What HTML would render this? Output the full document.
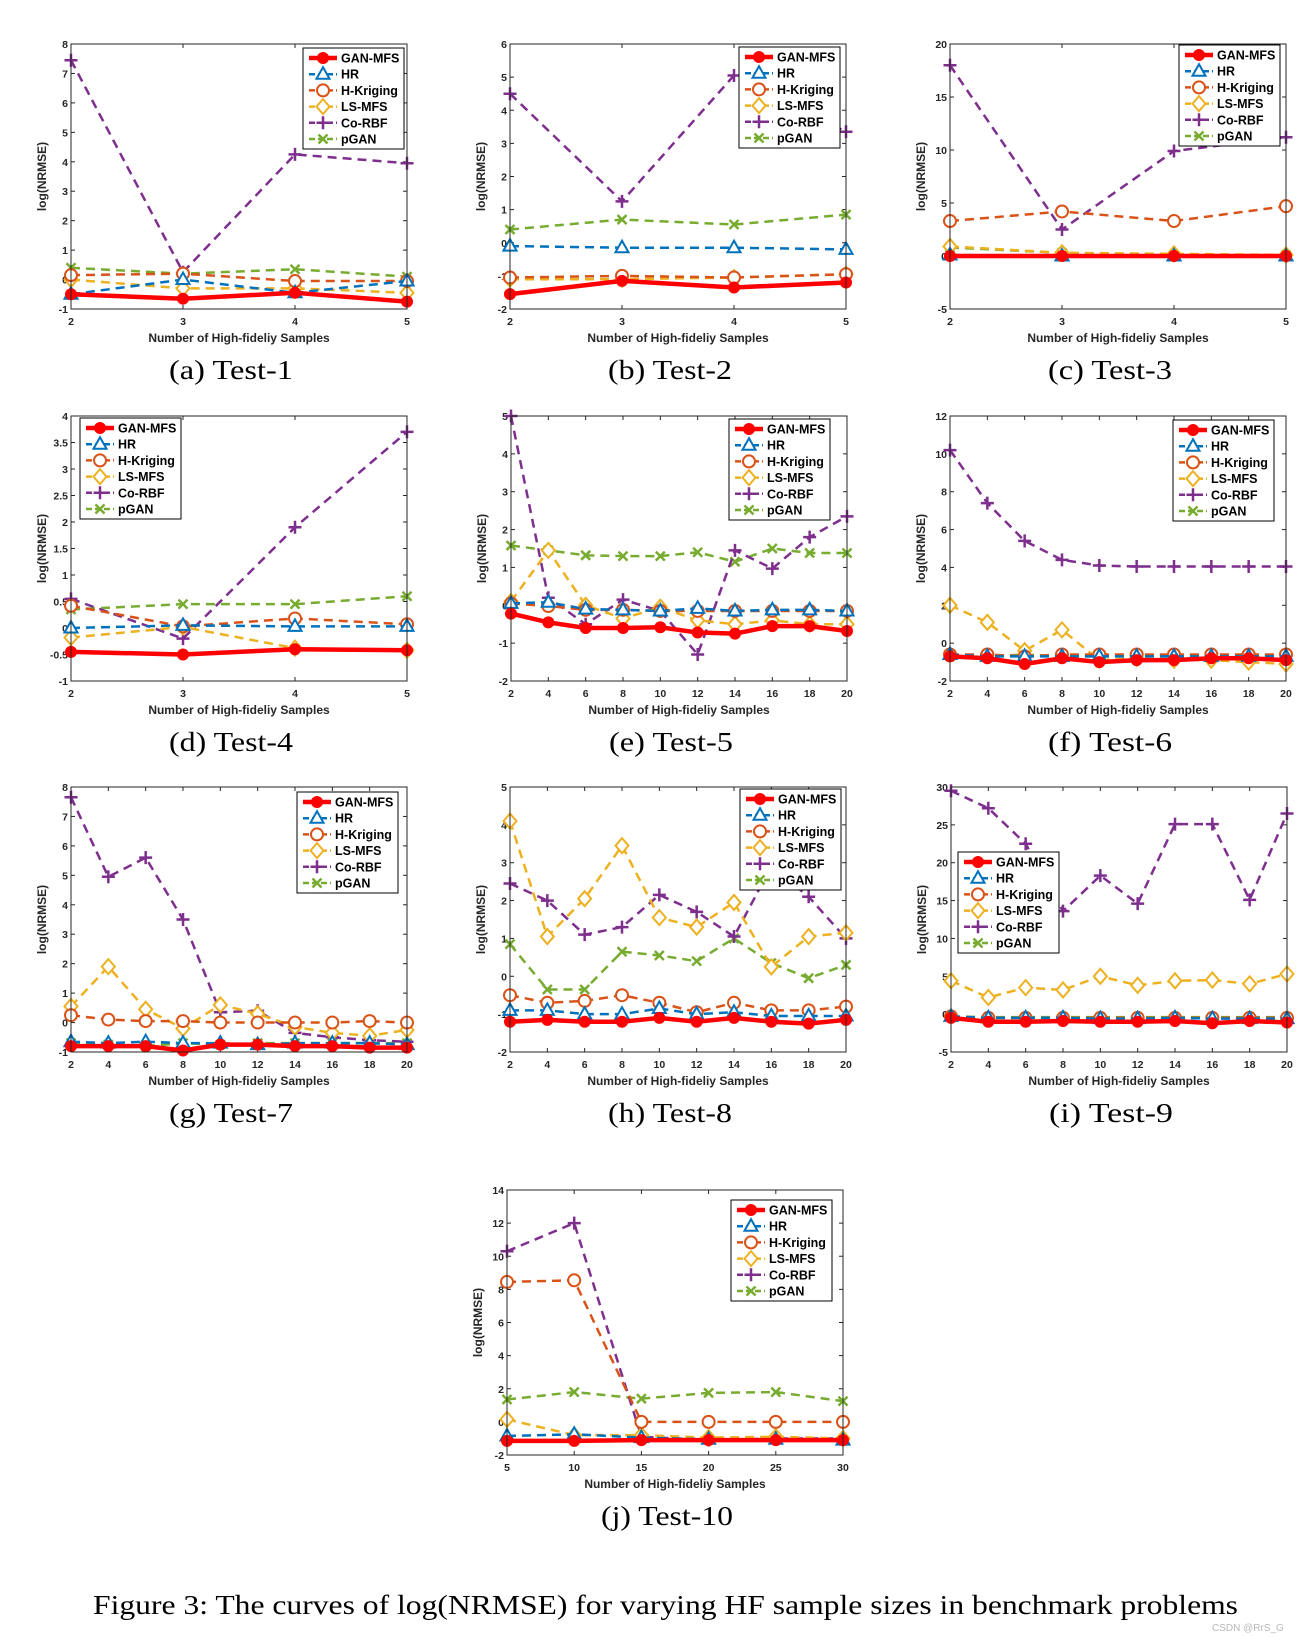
<!DOCTYPE html>
<html><head><meta charset="utf-8"><style>
html,body{margin:0;padding:0;background:#fff;}
svg{display:block;}
.tk{font-family:"Liberation Sans",sans-serif;font-weight:bold;font-size:10.5px;fill:#262626;}
.lab{font-family:"Liberation Sans",sans-serif;font-weight:bold;font-size:12px;fill:#262626;}
.leg{font-family:"Liberation Sans",sans-serif;font-weight:bold;font-size:12.5px;fill:#000;}
.cap{font-family:"Liberation Serif",serif;font-size:27px;fill:#000;}
</style></head><body>
<svg id="fig" width="1298" height="1637" viewBox="0 0 1298 1637" xmlns="http://www.w3.org/2000/svg">
<text class="cap" x="93" y="1614" textLength="1145" lengthAdjust="spacingAndGlyphs">Figure 3: The curves of log(NRMSE) for varying HF sample sizes in benchmark problems</text>
<text x="1212" y="1631" font-family="Liberation Sans, sans-serif" font-size="10" fill="#b8b8b8">CSDN @RrS_G</text>
</svg>
<script>
// ---- data ----
const seriesNames=["GAN-MFS","HR","H-Kriging","LS-MFS","Co-RBF","pGAN"];
const x4=[2,3,4,5];
const x10=[2,4,6,8,10,12,14,16,18,20];
const x6=[5,10,15,20,25,30];

const a_gan=[-0.5,-0.65,-0.45,-0.75];
const a_hr=[-0.5,0.0,-0.45,-0.05];
const a_hk=[0.15,0.2,-0.05,-0.05];
const a_ls=[0.0,-0.3,-0.3,-0.45];
const a_co=[7.45,0.25,4.25,3.95];
const a_pg=[0.4,0.2,0.35,0.1];

const b_gan=[-1.55,-1.15,-1.35,-1.2];
const b_hr=[-0.1,-0.15,-0.15,-0.2];
const b_hk=[-1.05,-1.0,-1.05,-0.95];
const b_ls=[-1.1,-1.1,-1.05,-0.95];
const b_co=[4.5,1.25,5.05,3.35];
const b_pg=[0.4,0.7,0.55,0.85];

const c_gan=[0,0,0,0];
const c_hr=[0.1,0,0,0];
const c_hk=[3.3,4.2,3.3,4.7];
const c_ls=[0.9,0.3,0.2,0.1];
const c_co=[18,2.5,9.9,11.2];
const c_pg=[0.8,0.3,0.1,0.1];

const d_gan=[-0.45,-0.5,-0.4,-0.42];
const d_hr=[0.0,0.05,0.03,0.03];
const d_hk=[0.42,0.03,0.18,0.07];
const d_ls=[-0.18,0.02,-0.38,-0.42];
const d_co=[0.55,-0.2,1.9,3.7];
const d_pg=[0.35,0.45,0.45,0.6];

const e_gan=[-0.22,-0.45,-0.6,-0.6,-0.58,-0.72,-0.75,-0.55,-0.55,-0.68];
const e_hr=[0.05,0.08,-0.1,-0.12,-0.15,-0.08,-0.15,-0.12,-0.12,-0.15];
const e_hk=[0.05,-0.02,-0.12,-0.12,-0.15,-0.15,-0.15,-0.15,-0.15,-0.15];
const e_ls=[0.1,1.45,0.0,-0.35,-0.05,-0.4,-0.5,-0.4,-0.5,-0.5];
const e_co=[5.0,0.2,-0.5,0.15,-0.15,-1.3,1.45,0.97,1.8,2.35];
const e_pg=[1.58,1.45,1.32,1.3,1.3,1.4,1.15,1.5,1.38,1.38];

const f_gan=[-0.7,-0.8,-1.1,-0.8,-1.0,-0.9,-0.9,-0.8,-0.8,-0.9];
const f_hr=[-0.6,-0.7,-0.7,-0.7,-0.7,-0.7,-0.7,-0.7,-0.7,-0.7];
const f_hk=[-0.6,-0.6,-0.7,-0.6,-0.6,-0.6,-0.6,-0.6,-0.6,-0.6];
const f_ls=[2.0,1.1,-0.4,0.7,-0.9,-0.8,-0.9,-0.9,-1.0,-1.1];
const f_co=[10.2,7.4,5.4,4.4,4.1,4.05,4.05,4.05,4.05,4.05];
const f_pg=[-0.7,-0.7,-0.6,-0.7,-0.7,-0.7,-0.7,-0.7,-0.7,-0.7];

const g_gan=[-0.8,-0.8,-0.8,-0.95,-0.75,-0.75,-0.8,-0.8,-0.85,-0.85];
const g_hr=[-0.65,-0.7,-0.65,-0.7,-0.7,-0.75,-0.7,-0.7,-0.7,-0.75];
const g_hk=[0.25,0.1,0.05,0.05,0.0,0.0,0.0,0.0,0.05,0.0];
const g_ls=[0.55,1.9,0.45,-0.2,0.6,0.3,-0.15,-0.35,-0.45,-0.25];
const g_co=[7.65,4.95,5.6,3.5,0.35,0.4,-0.35,-0.5,-0.6,-0.65];
const g_pg=[-0.7,-0.75,-0.8,-0.7,-0.75,-0.7,-0.7,-0.7,-0.7,-0.7];

const h_gan=[-1.2,-1.15,-1.2,-1.2,-1.1,-1.2,-1.1,-1.2,-1.25,-1.15];
const h_hr=[-0.9,-0.9,-1.0,-1.0,-0.85,-1.0,-0.95,-1.05,-1.05,-1.05];
const h_hk=[-0.5,-0.7,-0.65,-0.5,-0.7,-0.95,-0.7,-0.9,-0.9,-0.8];
const h_ls=[4.1,1.05,2.05,3.45,1.55,1.3,1.95,0.25,1.05,1.15];
const h_co=[2.45,2.0,1.1,1.3,2.15,1.7,1.05,2.9,2.1,1.0];
const h_pg=[0.85,-0.35,-0.35,0.65,0.55,0.4,1.0,0.35,-0.05,0.3];

const i_gan=[-0.5,-1.0,-1.0,-0.9,-1.0,-1.0,-0.9,-1.2,-0.9,-1.1];
const i_hr=[-0.3,-0.5,-0.5,-0.5,-0.6,-0.6,-0.5,-0.6,-0.6,-0.6];
const i_hk=[-0.3,-0.5,-0.5,-0.5,-0.5,-0.5,-0.5,-0.5,-0.5,-0.5];
const i_ls=[4.4,2.2,3.5,3.2,5.0,3.8,4.4,4.5,4.0,5.3];
const i_co=[29.5,27.2,22.5,13.6,18.3,14.6,25.1,25.1,15.1,26.5];
const i_pg=[-0.3,-0.4,-0.4,-0.4,-0.4,-0.4,-0.4,-0.4,-0.4,-0.4];

const j_gan=[-1.15,-1.15,-1.1,-1.1,-1.1,-1.1];
const j_hr=[-0.85,-0.75,-0.95,-1.05,-1.05,-1.1];
const j_hk=[8.45,8.55,0,0,0,0];
const j_ls=[0.15,-0.8,-0.8,-0.95,-0.9,-1.0];
const j_co=[10.3,12.0,-0.9,-1.1,-1.0,-1.0];
const j_pg=[1.35,1.8,1.4,1.75,1.8,1.25];

const yTicksA=[-1,0,1,2,3,4,5,6,7,8];
const yTicksB=[-2,-1,0,1,2,3,4,5,6];
const yTicksC=[-5,0,5,10,15,20];
const yTicksD=[-1,-0.5,0,0.5,1,1.5,2,2.5,3,3.5,4];
const yTicksE=[-2,-1,0,1,2,3,4,5];
const yTicksF=[-2,0,2,4,6,8,10,12];
const yTicksG=[-1,0,1,2,3,4,5,6,7,8];
const yTicksH=[-2,-1,0,1,2,3,4,5];
const yTicksI=[-5,0,5,10,15,20,25,30];
const yTicksJ=[-2,0,2,4,6,8,10,12,14];
const captions=["(a)  Test-1","(b)  Test-2","(c)  Test-3","(d)  Test-4","(e)  Test-5","(f)  Test-6","(g)  Test-7","(h)  Test-8","(i)  Test-9","(j)  Test-10"];

// ---- layout ----
const colors=["#ff0000","#0072BD","#D95319","#EDB120","#7E2F8E","#77AC30"];
const keys=["gan","hr","hk","ls","co","pg"];
const panels=[
 {id:"a",L:71,T:44,xs:x4,yt:yTicksA,d:[a_gan,a_hr,a_hk,a_ls,a_co,a_pg],lg:[303,48]},
 {id:"b",L:510,T:44,xs:x4,yt:yTicksB,d:[b_gan,b_hr,b_hk,b_ls,b_co,b_pg],lg:[739,47]},
 {id:"c",L:950,T:44,xs:x4,yt:yTicksC,d:[c_gan,c_hr,c_hk,c_ls,c_co,c_pg],lg:[1179,45]},
 {id:"d",L:71,T:416,xs:x4,yt:yTicksD,d:[d_gan,d_hr,d_hk,d_ls,d_co,d_pg],lg:[80,418]},
 {id:"e",L:511,T:416,xs:x10,yt:yTicksE,d:[e_gan,e_hr,e_hk,e_ls,e_co,e_pg],lg:[729,419]},
 {id:"f",L:950,T:416,xs:x10,yt:yTicksF,d:[f_gan,f_hr,f_hk,f_ls,f_co,f_pg],lg:[1173,420]},
 {id:"g",L:71,T:787,xs:x10,yt:yTicksG,d:[g_gan,g_hr,g_hk,g_ls,g_co,g_pg],lg:[297,792]},
 {id:"h",L:510,T:787,xs:x10,yt:yTicksH,d:[h_gan,h_hr,h_hk,h_ls,h_co,h_pg],lg:[740,789]},
 {id:"i",L:951,T:787,xs:x10,yt:yTicksI,d:[i_gan,i_hr,i_hk,i_ls,i_co,i_pg],lg:[958,852]},
 {id:"j",L:507,T:1190,xs:x6,yt:yTicksJ,d:[j_gan,j_hr,j_hk,j_ls,j_co,j_pg],lg:[731,1200]}
];
const W=336,H=265;
const NS="http://www.w3.org/2000/svg";
const fig=document.getElementById("fig");
function mk(tag,attrs,parent){const e=document.createElementNS(NS,tag);for(const k in attrs)e.setAttribute(k,attrs[k]);(parent||fig).appendChild(e);return e;}

function marker(g,k,cx,cy,col){
 let m;
 if(k===0){m=mk("circle",{cx:cx,cy:cy,r:5.5,fill:col,stroke:col},g);}
 else if(k===1){m=mk("polygon",{points:`${cx},${cy-7} ${cx-6.5},${cy+4.5} ${cx+6.5},${cy+4.5}`,fill:"#fff",stroke:col,"stroke-width":2},g);}
 else if(k===2){m=mk("circle",{cx:cx,cy:cy,r:6,fill:"#fff",stroke:col,"stroke-width":2},g);}
 else if(k===3){m=mk("polygon",{points:`${cx},${cy-7.5} ${cx+6.5},${cy} ${cx},${cy+7.5} ${cx-6.5},${cy}`,fill:"#fff",stroke:col,"stroke-width":2},g);}
 else if(k===4){m=mk("path",{d:`M${cx-6.5},${cy}H${cx+6.5}M${cx},${cy-6.5}V${cy+6.5}`,stroke:col,"stroke-width":2.5,fill:"none"},g);}
 else {m=mk("path",{d:`M${cx-4.5},${cy-4.5}L${cx+4.5},${cy+4.5}M${cx-4.5},${cy+4.5}L${cx+4.5},${cy-4.5}`,stroke:col,"stroke-width":2.5,fill:"none"},g);}
 
 
}

panels.forEach((p,pi)=>{
 const g=mk("g",{});
 
 
 const xmin=p.xs[0],xmax=p.xs[p.xs.length-1];
 const ymin=p.yt[0],ymax=p.yt[p.yt.length-1];
 const sx=v=>p.L+(v-xmin)/(xmax-xmin)*W;
 const sy=v=>p.T+H-(v-ymin)/(ymax-ymin)*H;
 const clip=mk("clipPath",{id:"clip"+p.id},g);
 mk("rect",{x:p.L-8,y:p.T-8,width:W+16,height:H+16},clip);
 p.xs.forEach(v=>{
  const x=sx(v);
  mk("line",{x1:x,y1:p.T+H,x2:x,y2:p.T+H-4,stroke:"#262626","stroke-width":1},g);
  mk("line",{x1:x,y1:p.T,x2:x,y2:p.T+4,stroke:"#262626","stroke-width":1},g);
  const t=mk("text",{x:x,y:p.T+H+16,"text-anchor":"middle",class:"tk"},g);t.textContent=v;
  
  
 });
 p.yt.forEach(v=>{
  const y=sy(v);
  mk("line",{x1:p.L,y1:y,x2:p.L+4,y2:y,stroke:"#262626","stroke-width":1},g);
  mk("line",{x1:p.L+W,y1:y,x2:p.L+W-4,y2:y,stroke:"#262626","stroke-width":1},g);
  const t=mk("text",{x:p.L-3,y:y+4,"text-anchor":"end",class:"tk"},g);t.textContent=v;
  
  
 });
 const xl=mk("text",{x:p.L+W/2,y:p.T+H+33,"text-anchor":"middle",class:"lab"},g);xl.textContent="Number of High-fideliy Samples";
 
 
 const cy=p.T+H/2;
 const yl=mk("text",{x:p.L-25,y:cy,"text-anchor":"middle",class:"lab",transform:`rotate(-90 ${p.L-25} ${cy})`},g);yl.textContent="log(NRMSE)";
 
 
 const sg=mk("g",{"clip-path":`url(#clip${p.id})`},g);
 for(let k=5;k>=0;k--){
  const vals=p.d[k];
  const pts=vals.map((v,i)=>sx(p.xs[i])+","+sy(v)).join(" ");
  const ln=mk("polyline",{points:pts,fill:"none",stroke:colors[k],"stroke-width":k===0?4.5:2.5,"stroke-dasharray":k===0?"none":"9 6","stroke-linejoin":"round"},sg);
  
  
  vals.forEach((v,i)=>marker(sg,k,sx(p.xs[i]),sy(v),colors[k]));
 }
 const box=mk("rect",{x:p.L,y:p.T,width:W,height:H,fill:"none",stroke:"#262626","stroke-width":1},g);
 
 
 const lx=p.lg[0],ly=p.lg[1];
 const lgG=mk("g",{},g);
 
 
 mk("rect",{x:lx,y:ly,width:101,height:101,fill:"#fff",stroke:"#000","stroke-width":1},lgG);
 seriesNames.forEach((n,k)=>{
  const yy=ly+10+k*16.2;
  const e=mk("g",{},lgG);
  
  
  mk("line",{x1:lx+6,y1:yy,x2:lx+34,y2:yy,stroke:colors[k],"stroke-width":k===0?4.5:2.5,"stroke-dasharray":k===0?"none":"6 3"},e);
  marker(e,k,lx+20,yy,colors[k]);
  const t=mk("text",{x:lx+38,y:yy+4.5,class:"leg"},e);t.textContent=n;
 });
 const cap=mk("text",{x:p.L+W/2-8,y:p.T+H+70,"text-anchor":"middle",class:"cap",textLength:(pi===9?132:124),lengthAdjust:"spacingAndGlyphs"},g);cap.textContent=captions[pi];
 
 
});
</script>
</body></html>
